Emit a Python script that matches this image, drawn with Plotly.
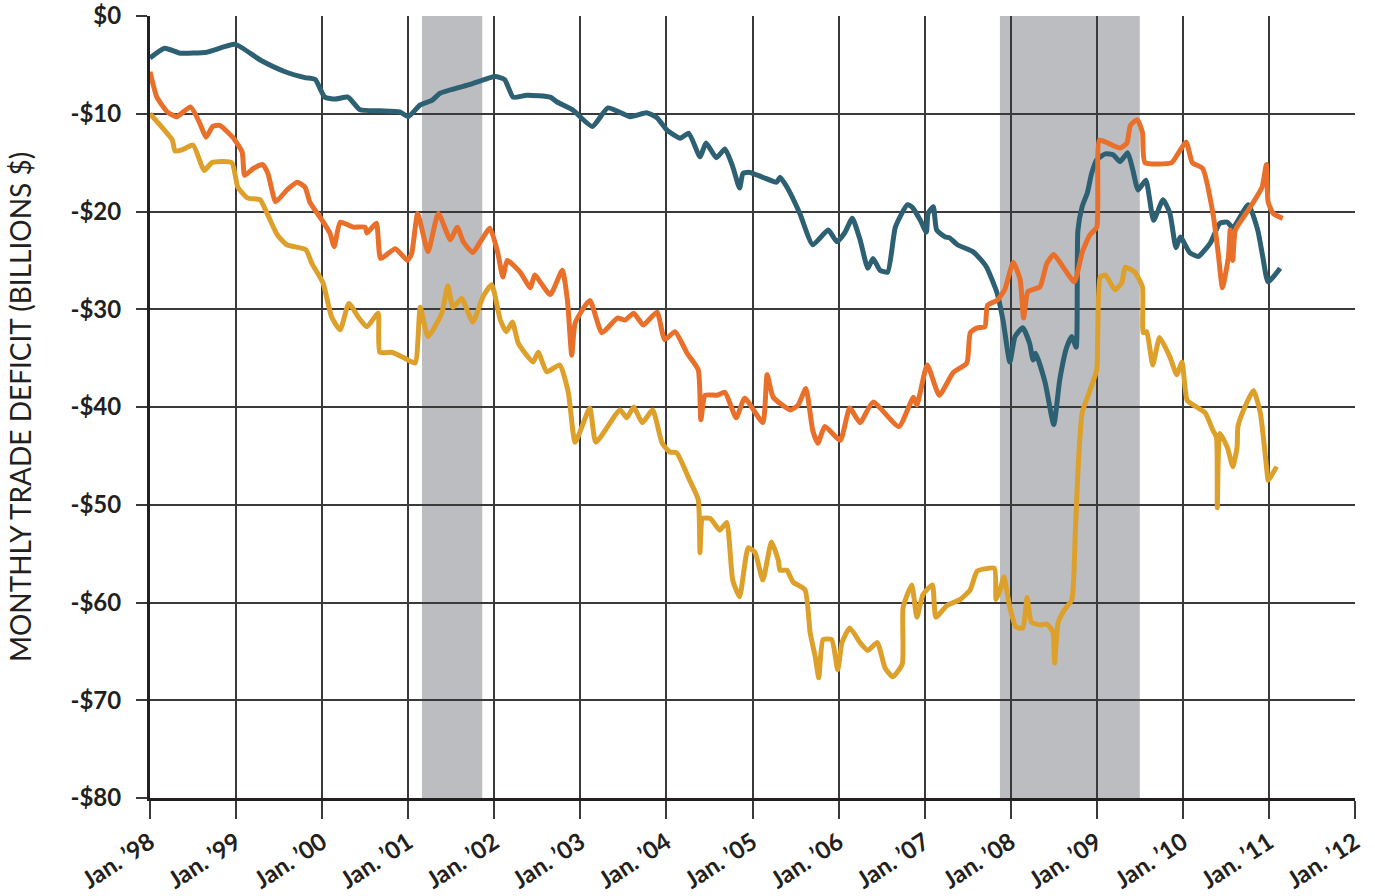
import plotly.graph_objects as go

# ---- data (decimal year, billions $) ----
teal_t = [1998.00, 1998.17, 1998.35, 1998.66, 1998.99, 1999.28, 1999.57, 1999.80, 1999.92, 2000.03,
          2000.15, 2000.30, 2000.44, 2000.67, 2000.90, 2001.00, 2001.14, 2001.28, 2001.37, 2001.72,
          2002.01, 2002.12, 2002.22, 2002.38, 2002.65, 2002.73, 2002.91, 2003.14, 2003.32, 2003.58,
          2003.77, 2003.89, 2004.01, 2004.16, 2004.26, 2004.39, 2004.46, 2004.58, 2004.68, 2004.77,
          2004.85, 2004.89, 2004.97, 2005.12, 2005.28, 2005.32, 2005.40, 2005.55, 2005.70, 2005.88,
          2005.98, 2006.07, 2006.16, 2006.25, 2006.34, 2006.40, 2006.48, 2006.57, 2006.66, 2006.80,
          2006.86, 2006.95, 2007.02, 2007.04, 2007.10, 2007.14, 2007.24, 2007.29, 2007.38, 2007.56,
          2007.64, 2007.72, 2007.84, 2007.91, 2007.99, 2008.05, 2008.14, 2008.22, 2008.26, 2008.29,
          2008.40, 2008.50, 2008.57, 2008.65, 2008.71, 2008.76, 2008.78, 2008.83, 2008.89, 2008.94,
          2009.00, 2009.10, 2009.19, 2009.27, 2009.36, 2009.42, 2009.48, 2009.57, 2009.66, 2009.77,
          2009.85, 2009.92, 2009.97, 2010.08, 2010.18, 2010.32, 2010.43, 2010.52, 2010.58, 2010.76,
          2010.87, 2010.93, 2010.99, 2011.13]
teal_v = [-4.3, -3.3, -3.8, -3.7, -2.9, -4.5, -5.7, -6.3, -6.5, -8.3,
          -8.5, -8.3, -9.6, -9.7, -9.8, -10.3, -9.1, -8.6, -7.9, -7.0,
          -6.2, -6.5, -8.3, -8.1, -8.3, -8.8, -9.6, -11.3, -9.4, -10.3,
          -9.9, -10.4, -11.7, -12.5, -12.0, -14.4, -13.0, -14.5, -13.6, -15.4,
          -17.6, -16.1, -16.0, -16.5, -17.0, -16.5, -17.5, -20.2, -23.4, -21.9,
          -23.1, -22.2, -20.7, -22.9, -25.8, -24.8, -26.0, -26.2, -21.6, -19.3,
          -19.6, -20.9, -22.1, -20.2, -19.5, -21.9, -22.6, -22.7, -23.4, -24.1,
          -24.8, -25.7, -28.3, -31.1, -35.4, -32.8, -31.9, -33.5, -35.2, -34.5,
          -37.5, -41.8, -37.2, -33.9, -32.8, -33.9, -22.0, -19.5, -18.1, -16.1,
          -14.7, -14.1, -14.2, -14.9, -14.0, -15.8, -17.8, -16.8, -20.9, -18.8,
          -20.2, -23.7, -22.6, -24.2, -24.6, -23.2, -21.2, -21.1, -21.7, -19.3,
          -21.9, -24.7, -27.2, -25.8]

orange_t = [1998.00, 1998.08, 1998.20, 1998.31, 1998.47, 1998.58, 1998.65, 1998.73, 1998.81, 1998.96,
            1999.07, 1999.10, 1999.20, 1999.31, 1999.37, 1999.46, 1999.59, 1999.71, 1999.80, 1999.86,
            2000.00, 2000.09, 2000.14, 2000.21, 2000.36, 2000.50, 2000.52, 2000.63, 2000.68, 2000.85,
            2000.99, 2001.04, 2001.11, 2001.23, 2001.35, 2001.49, 2001.57, 2001.64, 2001.75, 2001.83,
            2001.95, 2002.04, 2002.10, 2002.15, 2002.30, 2002.42, 2002.47, 2002.65, 2002.79, 2002.85,
            2002.90, 2002.94, 2003.11, 2003.25, 2003.43, 2003.52, 2003.62, 2003.73, 2003.89, 2003.98,
            2004.10, 2004.24, 2004.37, 2004.40, 2004.45, 2004.59, 2004.68, 2004.81, 2004.91, 2005.12,
            2005.17, 2005.24, 2005.44, 2005.53, 2005.62, 2005.70, 2005.76, 2005.84, 2006.02, 2006.13,
            2006.25, 2006.40, 2006.70, 2006.87, 2006.91, 2007.03, 2007.17, 2007.33, 2007.49, 2007.53,
            2007.61, 2007.70, 2007.73, 2007.84, 2007.93, 2008.03, 2008.11, 2008.15, 2008.20, 2008.34,
            2008.42, 2008.50, 2008.61, 2008.74, 2008.83, 2008.92, 2009.00, 2009.03, 2009.13, 2009.27,
            2009.35, 2009.39, 2009.47, 2009.53, 2009.56, 2009.87, 2009.97, 2010.04, 2010.11, 2010.23,
            2010.35, 2010.41, 2010.46, 2010.53, 2010.55, 2010.58, 2010.61, 2010.78, 2010.92, 2010.97,
            2010.99, 2011.05, 2011.16]
orange_v = [-5.7, -8.3, -9.8, -10.3, -9.3, -11.0, -12.4, -11.3, -11.2, -12.4,
            -13.9, -16.3, -15.6, -15.2, -16.1, -19.0, -17.8, -17.0, -17.5, -19.1,
            -20.9, -22.2, -23.6, -21.1, -21.6, -21.6, -22.2, -21.2, -24.8, -23.8,
            -25.0, -24.3, -20.2, -24.1, -20.2, -22.9, -21.6, -23.1, -24.2, -23.2,
            -21.7, -24.2, -26.7, -25.0, -26.2, -27.8, -26.5, -28.5, -26.0, -29.1,
            -34.7, -31.4, -29.1, -32.4, -30.9, -31.1, -30.4, -31.6, -30.3, -33.1,
            -32.3, -34.5, -36.2, -41.3, -38.8, -38.8, -38.5, -41.1, -39.1, -41.6,
            -36.7, -39.0, -40.3, -39.8, -38.1, -42.4, -43.7, -42.0, -43.4, -40.1,
            -41.6, -39.5, -42.0, -39.0, -39.8, -35.7, -38.8, -36.5, -35.5, -32.4,
            -31.9, -31.8, -29.6, -29.1, -28.0, -25.2, -27.0, -30.9, -28.2, -27.7,
            -25.3, -24.4, -25.7, -27.2, -24.2, -22.4, -21.6, -12.7, -13.0, -13.5,
            -13.0, -11.2, -10.6, -11.9, -15.0, -15.0, -13.7, -12.9, -15.0, -15.6,
            -20.2, -24.2, -27.8, -24.6, -21.9, -25.0, -21.9, -19.6, -17.5, -15.2,
            -19.0, -20.2, -20.7]

gold_t = [1998.00, 1998.15, 1998.26, 1998.29, 1998.37, 1998.50, 1998.63, 1998.72, 1998.95, 1999.02,
          1999.13, 1999.28, 1999.36, 1999.48, 1999.59, 1999.81, 1999.88, 2000.01, 2000.11, 2000.21,
          2000.31, 2000.42, 2000.52, 2000.65, 2000.67, 2000.81, 2000.96, 2001.08, 2001.14, 2001.23,
          2001.39, 2001.46, 2001.52, 2001.62, 2001.75, 2001.87, 2001.97, 2002.07, 2002.14, 2002.21,
          2002.28, 2002.45, 2002.51, 2002.61, 2002.76, 2002.86, 2002.94, 2003.11, 2003.18, 2003.46,
          2003.54, 2003.62, 2003.72, 2003.84, 2003.95, 2004.04, 2004.12, 2004.27, 2004.37, 2004.39,
          2004.42, 2004.51, 2004.62, 2004.70, 2004.77, 2004.85, 2004.95, 2005.03, 2005.12, 2005.22,
          2005.30, 2005.32, 2005.40, 2005.47, 2005.61, 2005.67, 2005.73, 2005.77, 2005.82, 2005.92,
          2005.99, 2006.04, 2006.13, 2006.25, 2006.34, 2006.45, 2006.54, 2006.63, 2006.74, 2006.75,
          2006.85, 2006.91, 2006.98, 2007.09, 2007.13, 2007.26, 2007.41, 2007.53, 2007.61, 2007.81,
          2007.83, 2007.88, 2007.92, 2007.99, 2008.06, 2008.14, 2008.19, 2008.24, 2008.34, 2008.42,
          2008.49, 2008.51, 2008.55, 2008.62, 2008.71, 2008.75, 2008.78, 2008.83, 2008.92, 2009.00,
          2009.01, 2009.04, 2009.10, 2009.21, 2009.29, 2009.33, 2009.44, 2009.53, 2009.54, 2009.58,
          2009.65, 2009.73, 2009.85, 2009.93, 2009.99, 2010.05, 2010.16, 2010.26, 2010.35, 2010.39,
          2010.40, 2010.43, 2010.52, 2010.58, 2010.63, 2010.64, 2010.72, 2010.82, 2010.90, 2010.98,
          2010.99, 2011.09]
gold_v = [-10.0, -11.5, -12.7, -13.8, -13.7, -13.2, -15.8, -15.0, -15.0, -17.5,
          -18.6, -18.8, -20.2, -22.4, -23.4, -23.9, -25.3, -27.3, -30.8, -32.1,
          -29.4, -30.8, -31.8, -30.4, -34.4, -34.4, -35.0, -35.5, -29.8, -32.8,
          -30.4, -27.6, -29.8, -28.9, -31.3, -28.7, -27.5, -31.1, -32.3, -31.3,
          -33.5, -35.4, -34.4, -36.4, -35.7, -38.5, -43.6, -40.1, -43.6, -40.3,
          -41.1, -40.0, -41.6, -40.3, -43.7, -44.6, -44.7, -47.5, -49.5, -54.9,
          -51.4, -51.4, -52.6, -51.8, -57.7, -59.4, -54.4, -54.9, -57.7, -53.8,
          -55.7, -56.7, -56.7, -57.9, -58.7, -63.1, -65.6, -67.7, -63.8, -63.8,
          -66.9, -64.1, -62.6, -64.1, -64.9, -64.1, -66.7, -67.6, -66.3, -60.5,
          -58.2, -61.5, -59.2, -58.2, -61.5, -60.3, -59.7, -58.7, -56.8, -56.5,
          -59.7, -58.6, -57.4, -60.5, -62.5, -62.6, -59.5, -62.0, -62.3, -62.2,
          -63.0, -66.2, -62.1, -60.8, -59.7, -52.9, -46.8, -40.6, -38.3, -36.2,
          -33.1, -26.7, -26.5, -28.0, -27.3, -25.7, -26.2, -27.7, -32.4, -32.3,
          -35.7, -32.9, -34.9, -36.7, -35.4, -39.3, -40.0, -40.6, -42.4, -43.1,
          -50.3, -42.7, -44.2, -46.1, -44.1, -42.0, -40.0, -38.3, -40.6, -46.8,
          -47.5, -46.1]

years = list(range(1998, 2013))
x_labels = ["Jan. \u2019%02d" % (y % 100) for y in years]
y_vals = [0, -10, -20, -30, -40, -50, -60, -70, -80]
y_labels = ["$0"] + ["-$%d" % (-v) for v in y_vals[1:]]
recessions = [(2001.16, 2001.86), (2007.875, 2009.50)]

TEAL = "#2C6072"
ORANGE = "#E8702A"
GOLD = "#DDA02B"
INK = "#231F20"
GRID = "#3A3A3A"

fig = go.Figure()
for t, v, c, n in [(teal_t, teal_v, TEAL, "Series A"),
                   (orange_t, orange_v, ORANGE, "Series B"),
                   (gold_t, gold_v, GOLD, "Series C")]:
    fig.add_trace(go.Scatter(x=t, y=v, mode="lines", name=n,
                             line=dict(color=c, width=5, shape="spline", smoothing=0.5),
                             hoverinfo="skip"))

for a, b in recessions:
    fig.add_vrect(x0=a, x1=b, fillcolor="#BCBDC0", opacity=1, line_width=0, layer="below")

fig.update_layout(
    width=1375, height=896,
    margin=dict(l=150, r=20, t=16, b=98),
    plot_bgcolor="white", paper_bgcolor="white",
    showlegend=False,
    font=dict(family="Lato", color=INK),
)
fig.update_xaxes(
    range=[1998, 2012], tickvals=years, ticktext=x_labels, tickangle=-33,
    tickfont=dict(size=24, family="Lato", weight="bold"),
    showgrid=True, gridcolor=GRID, gridwidth=1.5,
    showline=True, linecolor=INK, linewidth=3,
    ticks="outside", ticklen=18, tickwidth=1.5, tickcolor=GRID,
    ticklabeloverflow="allow",
    zeroline=False, automargin=False,
)
fig.update_yaxes(
    range=[-80, 0], tickvals=y_vals, ticktext=y_labels,
    tickfont=dict(size=24, family="Lato", weight="bold"),
    showgrid=True, gridcolor=GRID, gridwidth=1.5,
    showline=True, linecolor=INK, linewidth=3,
    ticks="outside", ticklen=11, tickwidth=1.5, tickcolor=GRID,
    ticklabelstandoff=10, ticklabeloverflow="allow",
    zeroline=False, automargin=False,
    title=dict(text="MONTHLY TRADE DEFICIT (BILLIONS $)", font=dict(size=28, family="Lato"), standoff=31),
)

# remove the browser's default page margin so the figure fills the window exactly
fig.write_html("out.html", config={"displayModeBar": False},
               post_script="document.body.style.margin='0';document.body.style.overflow='hidden';")
